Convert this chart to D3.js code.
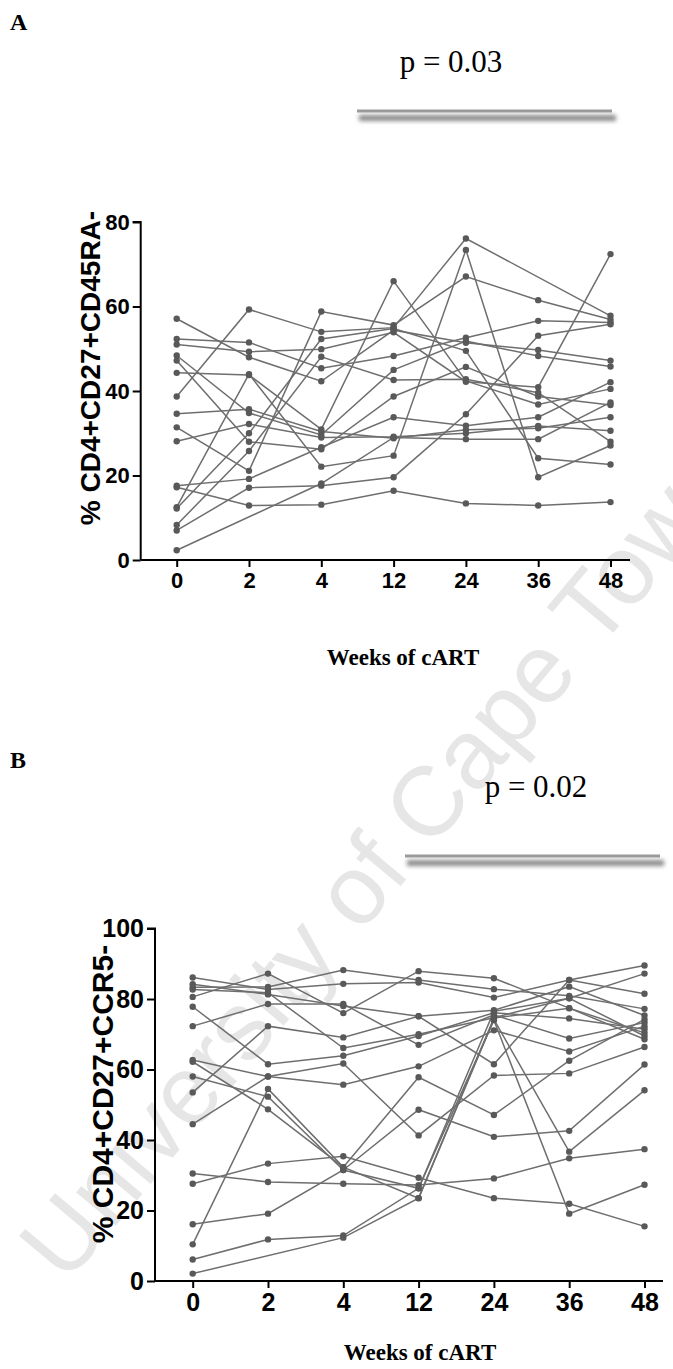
<!DOCTYPE html>
<html>
<head>
<meta charset="utf-8">
<script src="https://cdn.jsdelivr.net/npm/d3@7"></script>
<style>
  html, body { margin: 0; padding: 0; background: #fff; }
  svg { display: block; }
</style>
</head>
<body>
<svg id="fig" width="673" height="1369"></svg>
<script>
// Time points (weeks of cART)
const weeks = ["0", "2", "4", "12", "24", "36", "48"];

// Panel A: % CD4+CD27+CD45RA- per participant (null = not measured)
const cd45raSubjects = [
  [17.2, 12.9, 13.1, 16.4, 13.4, 12.9, 13.7],
  [38.7, 59.3, 54.0, 55.0, 76.1, null, 57.8],
  [31.4, 21.1, 58.8, 55.6, 67.1, 61.5, 56.9],
  [52.3, 51.5, 45.4, 48.3, 52.6, 56.6, 56.2],
  [12.5, 44.0, 22.1, 24.7, 73.4, 19.6, 27.1],
  [44.3, 43.8, 30.9, 66.0, 42.4, 36.8, 40.5],
  [57.1, 48.0, 42.3, 54.4, 51.4, 49.7, 47.2],
  [51.0, 49.3, 49.9, 53.9, 42.2, 40.9, 72.4],
  [48.4, 34.8, 29.6, 45.0, 51.8, 48.3, 45.8],
  [47.2, 28.0, 26.2, 38.7, 45.7, 38.7, 36.7],
  [34.6, 35.7, 30.4, 28.8, 30.8, 31.2, 33.8],
  [28.1, 32.2, 29.0, 29.2, 30.0, 31.7, 30.6],
  [17.6, 19.2, 26.7, 33.8, 31.8, 33.8, 42.1],
  [12.2, 30.0, 52.3, 54.8, 49.5, 24.1, 22.6],
  [8.3, 25.8, 48.1, 42.6, 42.8, 39.6, 28.0],
  [7.0, 17.1, 17.6, 19.6, 34.5, 53.1, 55.8],
  [2.3, null, 18.1, 29.0, 28.6, 28.6, 37.3]
];
const cd45raTicks = [0, 20, 40, 60, 80];

// Panel B: % CD4+CD27+CCR5- per participant
const ccr5Subjects = [
  [86.1, 82.7, 84.3, 84.7, 80.4, 85.4, 81.5],
  [84.2, 81.3, 78.0, 75.1, 76.8, 83.5, 75.3],
  [83.3, 83.4, 88.2, 85.4, 82.8, 80.9, 77.2],
  [82.7, 81.8, 66.1, 70.0, 74.7, 80.2, 87.2],
  [80.6, 87.2, 76.0, 87.9, 85.9, 77.4, 70.4],
  [77.8, 61.5, 63.9, 69.5, 76.1, 74.5, 71.4],
  [72.3, 78.6, 78.6, 67.0, 75.5, 68.8, 73.3],
  [62.7, 58.0, 55.7, 60.9, 71.1, 65.1, 72.3],
  [62.2, 48.7, 32.3, 57.8, 47.1, 62.5, 74.2],
  [58.0, 52.3, 31.5, 26.3, 74.0, 19.1, 27.3],
  [53.5, 72.3, 69.1, 75.1, 61.5, 85.4, 89.5],
  [44.5, 58.0, 61.7, 41.3, 58.3, 58.9, 66.4],
  [30.5, 28.1, 27.6, 27.2, 29.1, 34.8, 37.4],
  [27.6, 33.3, 35.4, 29.3, 23.5, 21.9, 15.5],
  [16.1, 19.1, 31.5, 48.6, 40.9, 42.6, 61.4],
  [10.4, 54.5, 32.3, 23.5, 74.2, 36.7, 54.1],
  [6.1, 11.8, 12.9, 26.3, 76.5, 80.2, 69.5],
  [2.1, null, 12.3, 23.5, 74.6, 77.4, 68.6]
];
const ccr5Ticks = [0, 20, 40, 60, 80, 100];

const panelLabels = ["A", "B"];
const pLabels = ["p = 0.03", "p = 0.02"];
const yTitles = ["% CD4+CD27+CD45RA-", "% CD4+CD27+CCR5-"];
const xTitle = "Weeks of cART";
const watermark = "University of Cape Town";

const svg = d3.select("#fig");

// soft shadow under the significance bar
const defs = svg.append("defs");
defs.append("filter").attr("id", "soft")
  .attr("x", "-10%").attr("y", "-200%").attr("width", "120%").attr("height", "500%")
  .append("feGaussianBlur").attr("stdDeviation", 2.2);

// faint diagonal watermark behind the plots
svg.append("text")
  .attr("transform", "translate(66,1285) rotate(-50)")
  .attr("font-family", "Liberation Sans, Arial, sans-serif")
  .attr("font-size", 98)
  .attr("fill", "#e6e6e6")
  .text(watermark);

const panels = [
  {
    data: cd45raSubjects, ticks: cd45raTicks, yMax: 80, tickSize: 22,
    yTop: 222, yBottom: 560, axisX: 140.7, xFirst: 176.7, xLast: 610.5, axisEnd: 630,
    label: panelLabels[0], labelY: 30, p: pLabels[0], pX: 451, pY: 72,
    barX0: 357, barX1: 614, barY: 111,
    yTitle: yTitles[0], yTitleX: 90, yTitleY: 368, yTitleSize: 28,
    xTitleX: 403, xTitleY: 665
  },
  {
    data: ccr5Subjects, ticks: ccr5Ticks, yMax: 100, tickSize: 25,
    yTop: 928.5, yBottom: 1281, axisX: 155, xFirst: 192.7, xLast: 644.5, axisEnd: 663,
    label: panelLabels[1], labelY: 768, p: pLabels[1], pX: 536, pY: 797,
    barX0: 405, barX1: 662, barY: 856,
    yTitle: yTitles[1], yTitleX: 102, yTitleY: 1094, yTitleSize: 30,
    xTitleX: 420, xTitleY: 1360
  }
];

panels.forEach(P => {
  const g = svg.append("g");

  const x = d3.scalePoint().domain(weeks).range([P.xFirst, P.xLast]);
  const y = d3.scaleLinear().domain([0, P.yMax]).range([P.yBottom, P.yTop]);

  // panel letter
  g.append("text")
    .attr("x", 10).attr("y", P.labelY)
    .attr("font-family", "Liberation Serif, Times New Roman, serif")
    .attr("font-weight", "bold").attr("font-size", 24)
    .text(P.label);

  // p-value and bar
  g.append("text")
    .attr("x", P.pX).attr("y", P.pY).attr("text-anchor", "middle")
    .attr("font-family", "Liberation Serif, Times New Roman, serif")
    .attr("font-size", 31)
    .text(P.p);
  g.append("rect")
    .attr("x", P.barX0 + 2).attr("y", P.barY + 4)
    .attr("width", P.barX1 - P.barX0).attr("height", 6)
    .attr("fill", "#8a8a8a").attr("filter", "url(#soft)");
  g.append("rect")
    .attr("x", P.barX0).attr("y", P.barY - 1.5)
    .attr("width", P.barX1 - P.barX0 - 2).attr("height", 3)
    .attr("fill", "#9a9a9a");

  // participant trajectories
  const rows = P.data.map(vals =>
    vals.map((v, i) => ({ w: weeks[i], v })).filter(d => d.v !== null));

  const line = d3.line().x(d => x(d.w)).y(d => y(d.v));
  g.append("g").selectAll("path").data(rows).join("path")
    .attr("d", line)
    .attr("fill", "none")
    .attr("stroke", "#6e6e6e")
    .attr("stroke-width", 1.5);

  g.append("g").selectAll("circle").data(rows.flat()).join("circle")
    .attr("cx", d => x(d.w)).attr("cy", d => y(d.v))
    .attr("r", 3.2).attr("fill", "#595959");

  // axes
  const yAxis = d3.axisLeft(y).tickValues(P.ticks).tickSize(8).tickPadding(3);
  const ya = g.append("g").attr("transform", `translate(${P.axisX},0)`).call(yAxis);
  ya.select(".domain").attr("stroke-width", 2).attr("d", `M-8,${P.yTop}H0V${P.yBottom}`);

  const xAxis = d3.axisBottom(x).tickSize(7).tickPadding(5);
  const xa = g.append("g").attr("transform", `translate(0,${P.yBottom})`).call(xAxis);
  xa.select(".domain").attr("stroke-width", 2).attr("d", `M${P.axisX},0H${P.axisEnd}`);

  [ya, xa].forEach(a => {
    a.selectAll(".tick line").attr("stroke", "#000").attr("stroke-width", 2);
    a.selectAll(".tick text")
      .attr("font-family", "Liberation Sans, Arial, sans-serif")
      .attr("font-weight", "bold").attr("font-size", P.tickSize).attr("fill", "#000");
  });

  // axis titles
  g.append("text")
    .attr("transform", `translate(${P.yTitleX},${P.yTitleY}) rotate(-90)`)
    .attr("text-anchor", "middle").attr("dy", "0.35em")
    .attr("font-family", "Liberation Sans, Arial, sans-serif")
    .attr("font-weight", "bold").attr("font-size", P.yTitleSize)
    .text(P.yTitle);

  g.append("text")
    .attr("x", P.xTitleX).attr("y", P.xTitleY)
    .attr("text-anchor", "middle")
    .attr("font-family", "Liberation Serif, Times New Roman, serif")
    .attr("font-weight", "bold").attr("font-size", 23)
    .text(xTitle);
});
</script>
</body>
</html>
